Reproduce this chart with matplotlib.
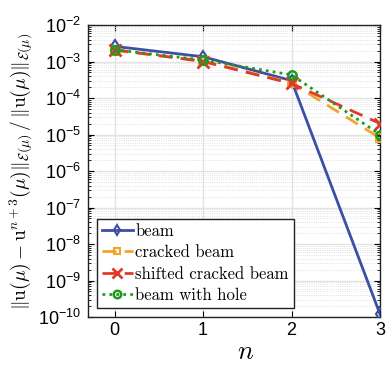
import matplotlib
matplotlib.use("Agg")
import math
import matplotlib.pyplot as plt
from matplotlib.ticker import FixedLocator, LogLocator, NullFormatter, FuncFormatter

plt.rcParams['mathtext.fontset'] = 'cm'
plt.rcParams['font.family'] = ['Liberation Sans', 'DejaVu Sans']
plt.rcParams['axes.unicode_minus'] = False

n = [0, 1, 2, 3]
beam = [2.6e-3, 1.35e-3, 3.0e-4, 1.2e-10]
cracked = [2.0e-3, 1.05e-3, 2.6e-4, 8e-6]
shifted = [2.1e-3, 1.0e-3, 2.5e-4, 2.0e-5]
hole = [2.1e-3, 1.1e-3, 4.3e-4, 1.0e-5]
labels = ['beam', 'cracked beam', 'shifted cracked beam', 'beam with hole']
xticks = [0, 1, 2, 3]

fig = plt.figure(figsize=(3.87, 3.66), dpi=100)
ax = fig.add_axes([88/387, 1-317/366, 292/387, 292/366])

ax.plot(n, beam, color='#3c4ea6', lw=2, ls='-', marker='d', ms=6, mfc='none', mew=1.5, label=labels[0], zorder=3)
ax.plot(n, cracked, color='#f5a32a', lw=2, ls=(0, (5, 3)), marker='s', ms=5.5, mfc='none', mew=1.5, label=labels[1], zorder=4)
ax.plot(n, shifted, color='#e03a2a', lw=2, ls=(0, (5, 3)), marker='x', ms=8, mew=2, label=labels[2], zorder=5)
ax.plot(n, hole, color='#1f9a1f', lw=2, ls=(0, (1, 1.5)), marker='o', ms=6, mfc='none', mew=1.8, label=labels[3], zorder=6)

ax.set_yscale('log')
ax.set_xlim(-0.3, 3)
ax.set_ylim(1e-10, 1e-2)
ax.xaxis.set_major_locator(FixedLocator(xticks))
ax.yaxis.set_major_locator(LogLocator(base=10, numticks=20))
ax.yaxis.set_minor_locator(LogLocator(base=10, subs=range(2, 10), numticks=100))
ax.yaxis.set_minor_formatter(NullFormatter())


def fmt(v, pos):
    e = int(round(math.log10(v)))
    return r'$\mathregular{10^{%d}}$' % e


ax.yaxis.set_major_formatter(FuncFormatter(fmt))

ax.grid(True, which='major', color='#e3e3e3', lw=1, ls='-')
ax.grid(True, which='minor', axis='y', color='#d8d8d8', lw=0.6, ls=':')
ax.set_axisbelow(True)
ax.tick_params(which='both', direction='in', top=True, right=True, labelsize=13)
ax.tick_params(axis='y', which='major', pad=5)
ax.tick_params(which='major', length=4)
ax.tick_params(which='minor', length=2)
for s in ax.spines.values():
    s.set_linewidth(1.0)
    s.set_color('#222222')

ax.set_xlabel(r'$n$', fontsize=19)
ax.xaxis.set_label_coords(0.541, -0.078)
ax.xaxis.label.set_verticalalignment('top')
ax.set_ylabel(r'$\|\mathrm{u}(\mu)-\mathrm{u}^{n+3}(\mu)\|_{\mathcal{E}(\mu)}\,/\,\|\mathrm{u}(\mu)\|_{\mathcal{E}(\mu)}$', fontsize=14, labelpad=2)

leg = ax.legend(loc='lower left', bbox_to_anchor=(0.031, 0.031), prop={'family': 'cmr10', 'size': 12},
                fancybox=False, framealpha=1, edgecolor='#222222', handlelength=1.85, borderpad=0.3,
                labelspacing=0.36, handletextpad=0.15, borderaxespad=0, markerscale=0.9)
leg.get_frame().set_linewidth(1.0)

fig.savefig('out.png', dpi=100)
